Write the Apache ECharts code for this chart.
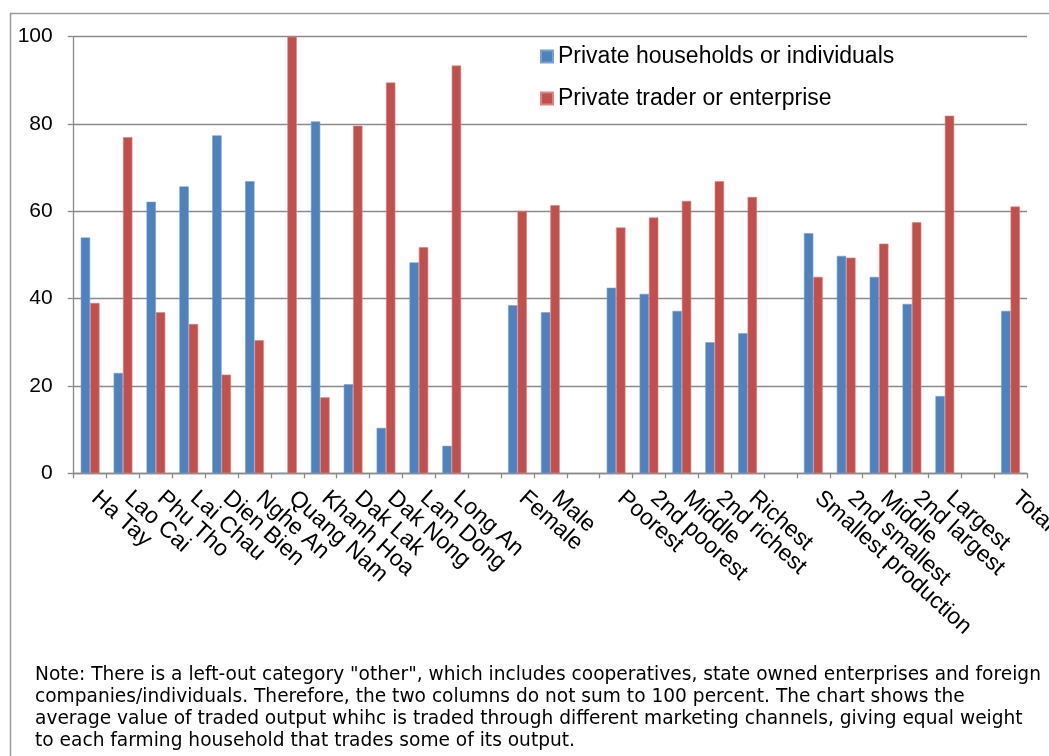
<!DOCTYPE html>
<html>
<head>
<meta charset="utf-8">
<script src="https://cdn.jsdelivr.net/npm/echarts@6/dist/echarts.min.js"></script>
<style>
  html, body { margin: 0; padding: 0; background: #ffffff; }
  #chart { width: 1049px; height: 756px; }
</style>
</head>
<body>
<div id="chart"></div>
<script>
// Groups of regions / gender / wealth / production size, with blank separators
const categories = [
  'Ha Tay', 'Lao Cai', 'Phu Tho', 'Lai Chau', 'Dien Bien', 'Nghe An',
  'Quang Nam', 'Khanh Hoa', 'Dak Lak', 'Dak Nong', 'Lam Dong', 'Long An',
  '',
  'Female', 'Male',
  ' ',
  'Poorest', '2nd poorest', 'Middle', '2nd richest', 'Richest',
  '  ',
  'Smallest production', '2nd smallest', 'Middle', '2nd largest', 'Largest',
  '   ',
  'Total'
];

// Share of traded output (%) by marketing channel
const householdsShare = [
  54.0, 23.0, 62.2, 65.7, 77.4, 66.9, 0, 80.6, 20.4, 10.4, 48.3, 6.3,
  null,
  38.5, 36.9,
  null,
  42.5, 41.1, 37.2, 30.0, 32.1,
  null,
  55.0, 49.8, 45.0, 38.8, 17.7,
  null,
  37.2
];
const traderShare = [
  39.0, 77.0, 36.9, 34.2, 22.6, 30.5, 100, 17.4, 79.6, 89.5, 51.8, 93.4,
  null,
  60.1, 61.4,
  null,
  56.3, 58.6, 62.4, 66.9, 63.3,
  null,
  45.0, 49.4, 52.6, 57.5, 81.9,
  null,
  61.1
];

const seriesNames = ['Private households or individuals', 'Private trader or enterprise'];
const yTicks = { min: 0, max: 100, interval: 20 };

const noteLines = [
  'Note: There is a left-out category "other", which includes cooperatives, state owned enterprises and foreign',
  'companies/individuals. Therefore, the two columns do not sum to 100 percent. The chart shows the',
  'average value of traded output whihc is traded through different marketing channels, giving equal weight',
  'to each farming household that trades some of its output.'
];

const FONT = 'Liberation Sans, Arial, sans-serif';
const GRID_GRAY = '#8a8a8a';

const chart = echarts.init(document.getElementById('chart'), null, { renderer: 'canvas' });

chart.setOption({
  backgroundColor: '#ffffff',
  animation: false,
  grid: {
    left: 73.7, right: 22, top: 36.7, bottom: 282.7,
    containLabel: false,
    outerBoundsMode: 'none'
  },
  legend: {
    orient: 'vertical',
    left: 540,
    top: 45,
    padding: 0,
    itemWidth: 12,
    itemHeight: 12,
    itemGap: 19,
    icon: 'rect',
    textStyle: { fontFamily: FONT, fontSize: 23, color: '#000000' },
    data: seriesNames
  },
  xAxis: {
    type: 'category',
    data: categories,
    boundaryGap: true,
    axisLine: { show: true, lineStyle: { color: GRID_GRAY, width: 1.3 } },
    axisTick: { show: true, interval: 0, length: 5, lineStyle: { color: GRID_GRAY, width: 1.3 } },
    axisLabel: {
      interval: 0,
      rotate: -42,
      margin: 27,
      verticalAlign: 'bottom',
      lineHeight: 14,
      hideOverlap: false,
      fontFamily: FONT,
      fontSize: 23,
      color: '#000000'
    },
    splitLine: { show: false }
  },
  yAxis: {
    type: 'value',
    min: yTicks.min,
    max: yTicks.max,
    interval: yTicks.interval,
    axisLine: { show: true, lineStyle: { color: GRID_GRAY, width: 1.3 } },
    axisTick: { show: true, length: 6, lineStyle: { color: GRID_GRAY, width: 1.3 } },
    axisLabel: { margin: 21, fontFamily: FONT, fontSize: 21, color: '#000000' },
    splitLine: { show: true, lineStyle: { color: GRID_GRAY, width: 1.3 } }
  },
  series: [
    {
      name: seriesNames[0],
      type: 'bar',
      data: householdsShare,
      barGap: '0%',
      barCategoryGap: '43%',
      itemStyle: { color: '#4f81bd', borderColor: '#7aa0d0', borderWidth: 0.6 }
    },
    {
      name: seriesNames[1],
      type: 'bar',
      data: traderShare,
      barGap: '0%',
      barCategoryGap: '43%',
      itemStyle: { color: '#c0504d', borderColor: '#d98582', borderWidth: 0.6 }
    }
  ],
  graphic: [
    {
      type: 'rect',
      silent: true,
      shape: { x: 10.5, y: 13.5, width: 1100, height: 800 },
      style: { fill: 'none', stroke: '#9a9a9a', lineWidth: 1.5 }
    },
    {
      type: 'text',
      silent: true,
      x: 35,
      y: 664,
      style: {
        text: noteLines.join('\n'),
        fontFamily: 'DejaVu Sans, sans-serif',
        fontSize: 18.6,
        lineHeight: 22,
        fill: '#000000',
        verticalAlign: 'top'
      }
    }
  ]
});
</script>
</body>
</html>
